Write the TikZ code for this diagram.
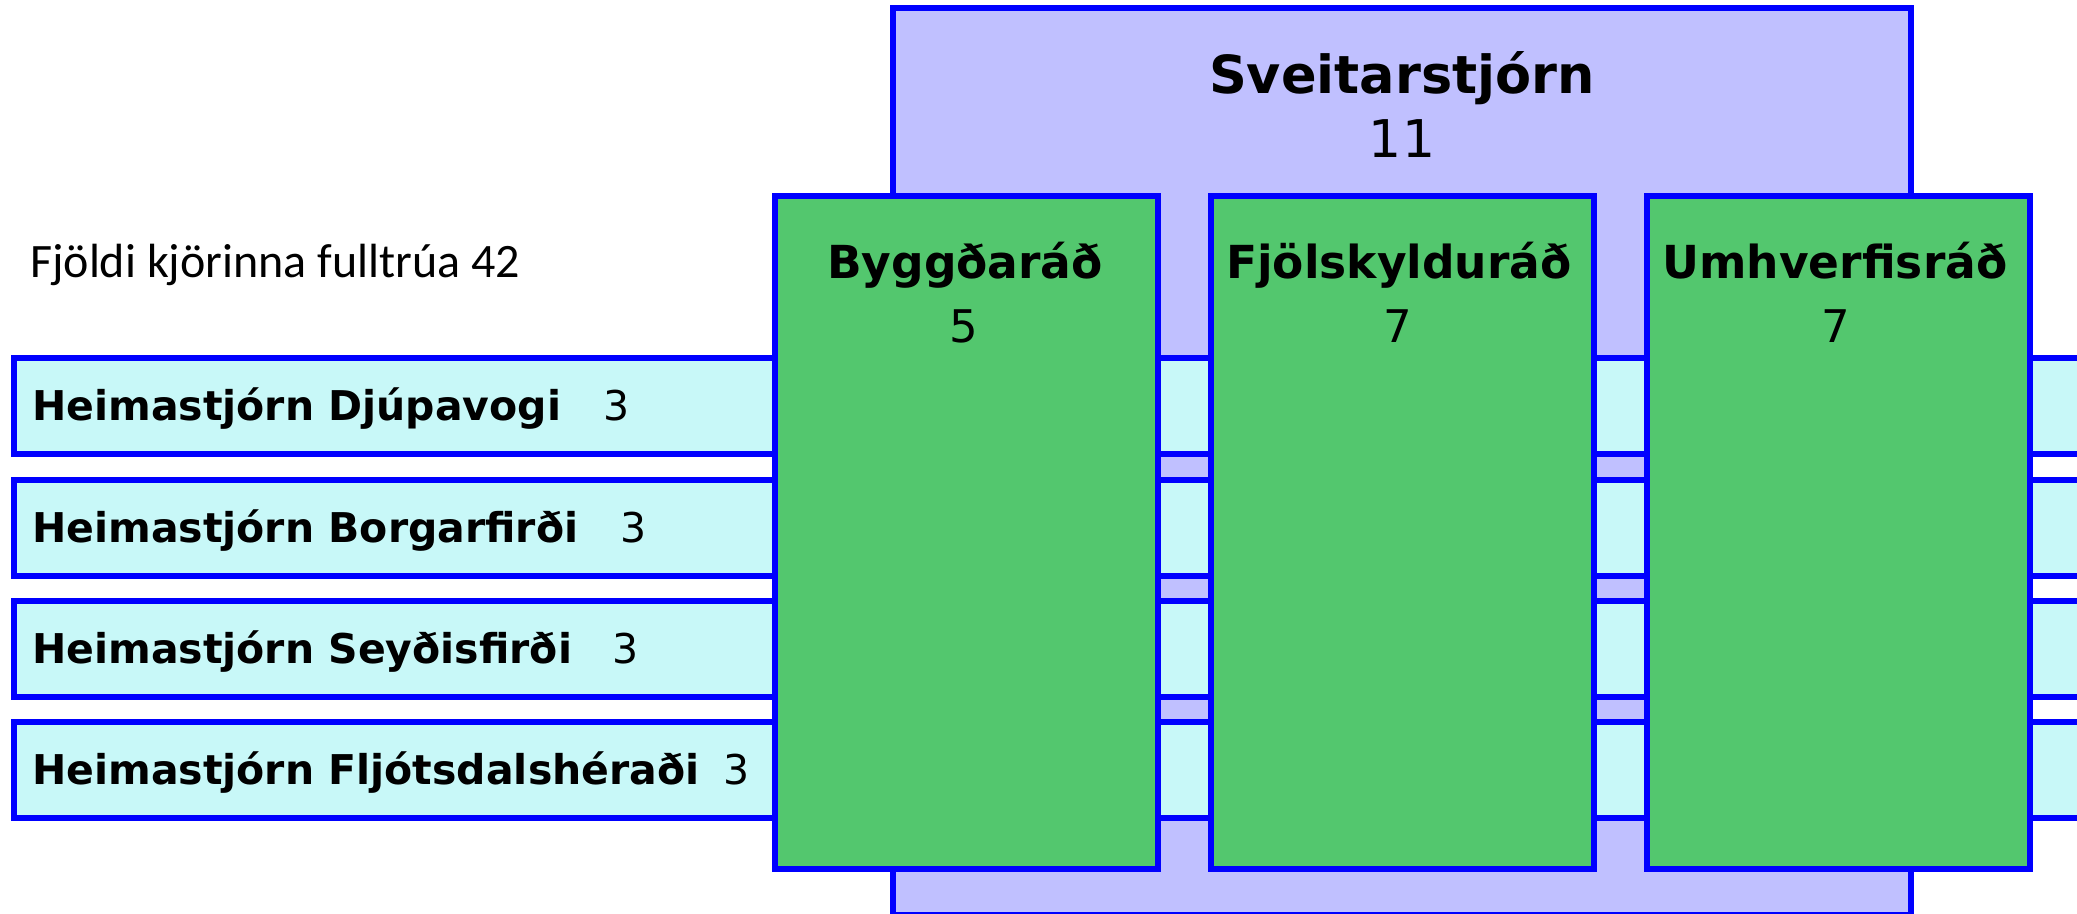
\documentclass[tikz,border=0pt]{standalone}
\usepackage{fontspec}
\setmainfont{DejaVu Sans}
\newfontfamily\carl{Carlito}
\definecolor{lav}{HTML}{C0C0FF}
\definecolor{cyanbar}{HTML}{C8F8F8}
\definecolor{grn}{HTML}{53C76E}
\definecolor{bord}{HTML}{0000FF}
\begin{document}
\begin{tikzpicture}[x=1pt,y=-1pt,
  box/.style={draw=bord,line width=6pt,anchor=north west,inner sep=0pt,outer sep=0pt},
  lavbox/.style={box,fill=lav,minimum width=1018pt,minimum height=907pt},
  barbox/.style={box,fill=cyanbar,minimum width=2086pt,minimum height=96pt},
  grnbox/.style={box,fill=grn,minimum width=383pt,minimum height=673pt},
  ttl/.style={inner sep=0pt,anchor=base,font=\fontsize{#1}{#1}\selectfont\bfseries},
  num/.style={inner sep=0pt,anchor=base,font=\fontsize{#1}{#1}\selectfont},
  bartxt/.style={inner sep=0pt,anchor=base west,font=\fontsize{41}{41}\selectfont\bfseries},
  barnum/.style={inner sep=0pt,anchor=base west,font=\fontsize{41}{41}\selectfont}]
\useasboundingbox (0,0) rectangle (2077,913);
% council box
\node[lavbox] (sv) at (893,8) {};
\node[ttl=52.5] (svt) at (1402,93) {Sveitarstjórn};
\node[num=52] (svn) at (1402,157) {11};
% bars
\node[barbox] (b1) at (14,358) {};
\node[barbox] (b2) at (14,480) {};
\node[barbox] (b3) at (14,601) {};
\node[barbox] (b4) at (14,722) {};
\node[bartxt] (b1t) at (32,420) {Heimastjórn Djúpavogi};
\node[bartxt] (b2t) at (32,542) {Heimastjórn Borgarfirði};
\node[bartxt] (b3t) at (32,663) {Heimastjórn Seyðisfirði};
\node[bartxt] (b4t) at (32,784) {Heimastjórn Fljótsdalshéraði};
\node[barnum] (b1n) at (603,420) {3};
\node[barnum] (b2n) at (620,542) {3};
\node[barnum] (b3n) at (612,663) {3};
\node[barnum] (b4n) at (723,784) {3};
% committees
\node[grnbox] (g1) at (775,196) {};
\node[grnbox] (g2) at (1211,196) {};
\node[grnbox] (g3) at (1647,196) {};
\node[ttl=45.5] (g1t) at (965,278) {Byggðaráð};
\node[num=45] (g1n) at (964,342) {5};
\node[ttl=45.5] (g2t) at (1399,278) {Fjölskylduráð};
\node[num=45] (g2n) at (1398,342) {7};
\node[ttl=45.5] (g3t) at (1835,278) {Umhverfisráð};
\node[num=45] (g3n) at (1836,342) {7};
% caption
\node[inner sep=0pt,anchor=base west,font=\carl\fontsize{48}{48}\selectfont] (cap) at (30,277) {Fjöldi kjörinna fulltrúa 42};
\end{tikzpicture}
\end{document}
